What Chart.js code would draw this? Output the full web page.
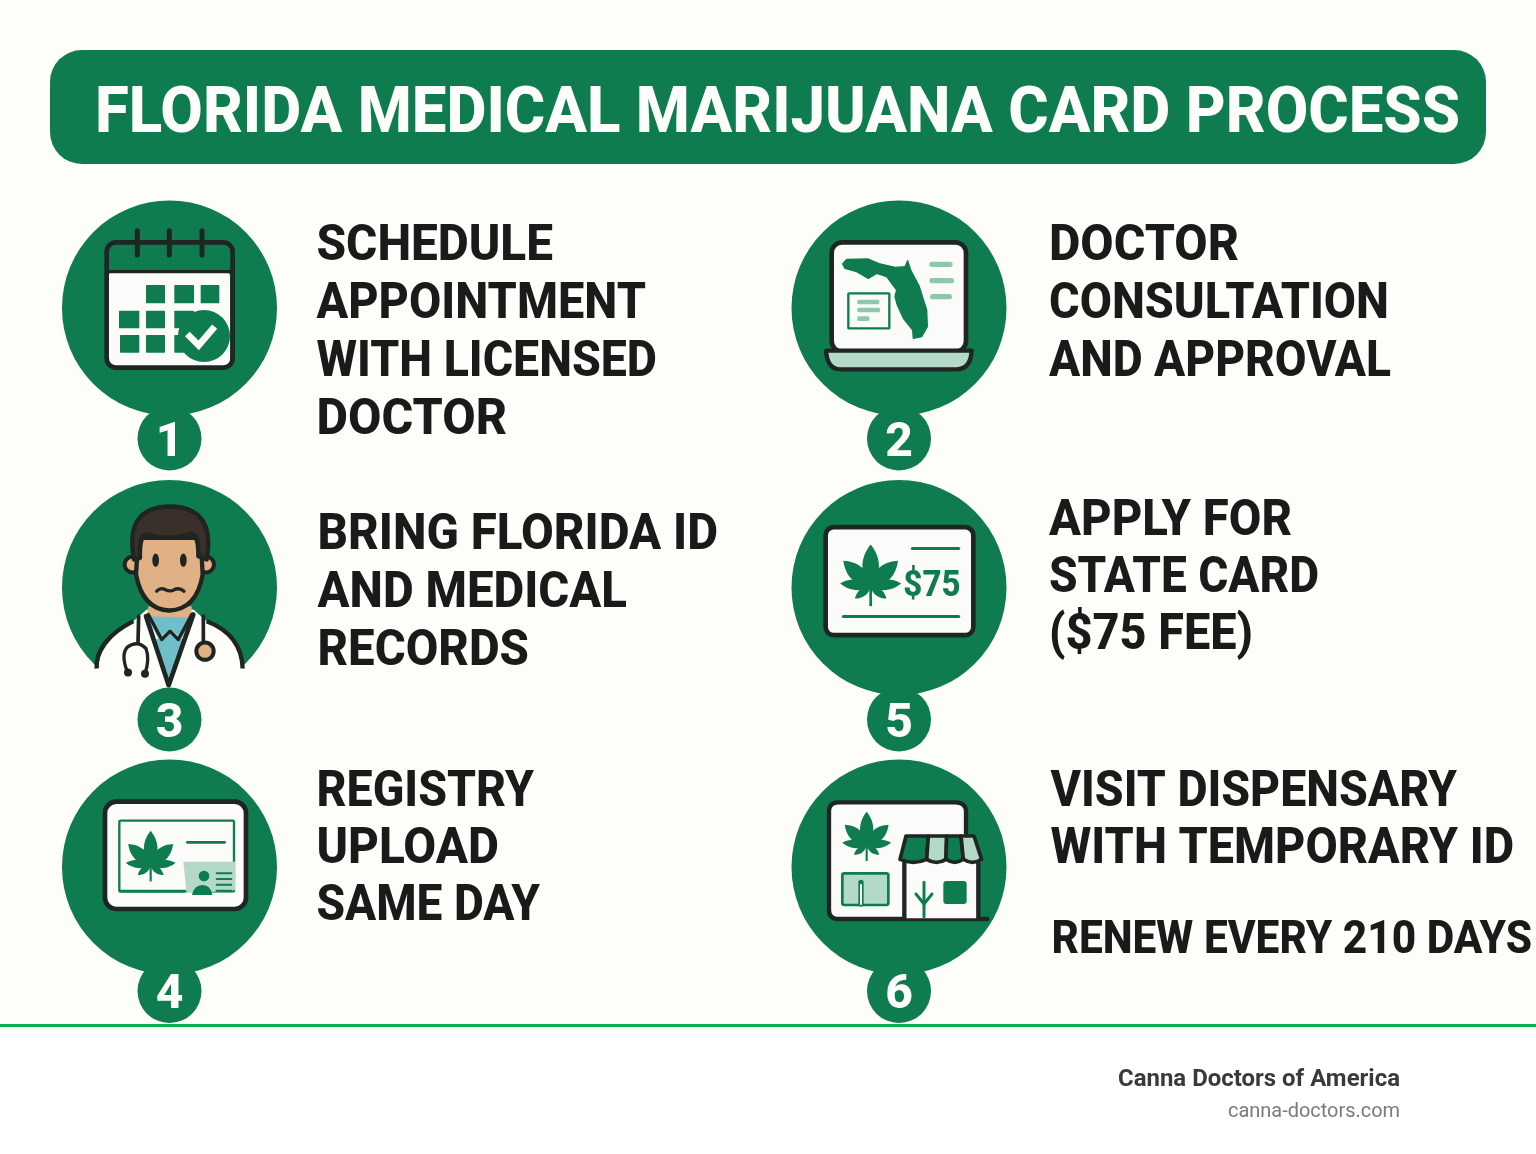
<!DOCTYPE html>
<html><head><meta charset="utf-8">
<style>html,body{margin:0;padding:0;background:#fff}canvas{display:block}</style>
<script src="https://cdn.jsdelivr.net/npm/chart.js@4"></script>
</head><body>
<div style="width:1536px;height:1154px"><canvas id="c" width="1536" height="1154"></canvas></div>
<script>
// ---- content ----
const titleText = "FLORIDA MEDICAL MARIJUANA CARD PROCESS";
const stepNumbers = ["1","2","3","4","5","6"];
const stepColumns = [0,1,0,0,1,1];
const stepRows    = [0,0,1,2,1,2];
const stepLines1 = ["SCHEDULE","APPOINTMENT","WITH LICENSED","DOCTOR"];
const stepLines2 = ["DOCTOR","CONSULTATION","AND APPROVAL"];
const stepLines3 = ["BRING FLORIDA ID","AND MEDICAL","RECORDS"];
const stepLines4 = ["REGISTRY","UPLOAD","SAME DAY"];
const stepLines5 = ["APPLY FOR","STATE CARD","($75 FEE)"];
const stepLines6 = ["VISIT DISPENSARY","WITH TEMPORARY ID"];
const renewText = "RENEW EVERY 210 DAYS";
const feeText = "$75";
const brandName = "Canna Doctors of America";
const brandSite = "canna-doctors.com";

// ---- style / layout ----
const G="#0F7C4F", D="#1E2522", P="#B5D9C9", M="#8FC7AE", W="#FBFCFA", BG="#FDFDF9", SK="#E0B184", TEAL="#6FBFCB";
const MAIN_R=107.5, BADGE_R=32;
const badgeOffsetPx=[130.5,132,124];
const HEAD="Roboto", HW="800";
const lay=[
 {t:stepLines1,x:316.5,w:[236.5,329.5,340.5,190.5],y:[260,318,376,434],s:50},
 {t:stepLines2,x:1049,w:[190,340,342],y:[260,318,376],s:50},
 {t:stepLines3,x:317.5,w:[400.5,309.5,211.5],y:[549,607,665],s:50},
 {t:stepLines4,x:316.5,w:[217.5,182.5,223.5],y:[806,863,920],s:50},
 {t:stepLines5,x:1049,w:[243,270,204],y:[535,592,649],s:50},
 {t:stepLines6,x:1050.5,w:[406.5,463.5],y:[806,863],s:50},
 {t:[renewText],x:1051.5,w:[480.5],y:[953],s:46}
];

function fit(ctx,text,x,y,w,font,color){
  ctx.save();ctx.font=font;ctx.fillStyle=color;ctx.textBaseline="alphabetic";ctx.textAlign="left";
  const m=ctx.measureText(text).width;ctx.translate(x,y);ctx.scale(w/m,1);ctx.fillText(text,0,0);ctx.restore();
}
function rr(ctx,x0,y0,x1,y1,r){ctx.beginPath();ctx.roundRect(x0,y0,x1-x0,y1-y0,r);}
function box(ctx,x0,y0,x1,y1,r,fill,stroke,lw){rr(ctx,x0,y0,x1,y1,r);if(fill){ctx.fillStyle=fill;ctx.fill();}if(stroke){ctx.strokeStyle=stroke;ctx.lineWidth=lw;ctx.stroke();}}
function seg(ctx,pts,color,lw){ctx.beginPath();pts.forEach((p,i)=>i?ctx.lineTo(p[0],p[1]):ctx.moveTo(p[0],p[1]));ctx.strokeStyle=color;ctx.lineWidth=lw;ctx.lineCap="round";ctx.lineJoin="round";ctx.stroke();}
function poly(ctx,pts,fill){ctx.beginPath();pts.forEach((p,i)=>i?ctx.lineTo(p[0],p[1]):ctx.moveTo(p[0],p[1]));ctx.closePath();ctx.fillStyle=fill;ctx.fill();}
function leaf(ctx,cx,cy,s){
  const parts=[[0,125,32],[-47,112,30],[47,112,30],[-85,92,20],[85,92,20],[-128,60,15],[128,60,15]];
  ctx.save();ctx.translate(cx,cy);ctx.scale(s,s);ctx.fillStyle=G;
  parts.forEach(([a,l,w])=>{ctx.save();ctx.rotate(a*Math.PI/180);ctx.beginPath();ctx.moveTo(0,0);
    ctx.bezierCurveTo(-w*1.25,-l*0.35,-w*0.8,-l*0.75,0,-l);ctx.bezierCurveTo(w*0.8,-l*0.75,w*1.25,-l*0.35,0,0);ctx.fill();ctx.restore();});
  ctx.fillRect(-4,0,8,60);ctx.restore();
}
const icons=[
 function calendar(c){
  box(c,175,245,540,528,14,W);
  seg(c,[[175,245],[540,245]],D,10);
  box(c,170,157,548,533,28,null,D,14);
  [262,358,456].forEach(x=>seg(c,[[x,122],[x,195]],D,15));
  [[288,285,345,340],[373,285,432,340],[452,285,508,340],[207,362,268,415],[288,362,345,415],[373,362,432,415],[210,435,268,488],[288,435,345,488],[373,435,430,488]]
   .forEach(r=>box(c,r[0],r[1],r[2],r[3],2,G));
  c.beginPath();c.arc(462,438,78,0,7);c.fillStyle=G;c.fill();
  c.lineCap="butt";c.lineJoin="miter";c.beginPath();c.moveTo(412,432);c.lineTo(446,466);c.lineTo(494,410);c.strokeStyle=W;c.lineWidth=20;c.stroke();
 },
 function laptop(c){
  box(c,155,157,558,485,32,W,D,14);
  c.beginPath();c.moveTo(138,482);c.lineTo(575,482);c.quadraticCurveTo(572,538,530,538);c.lineTo(180,538);c.quadraticCurveTo(142,538,138,482);c.closePath();
  c.fillStyle=P;c.fill();c.strokeStyle=D;c.lineWidth=13;c.lineJoin="round";c.stroke();
  c.beginPath();[[188,222],[200,208],[265,207],[300,222],[345,232],[375,230],[383,212],[392,240],[418,290],[440,360],[442,410],[425,440],[400,445],[398,420],[370,385],[352,345],[345,320],[350,300],[320,260],[290,250],[265,265],[230,245],[195,235]]
   .forEach((p,i)=>i?c.lineTo(p[0],p[1]):c.moveTo(p[0],p[1]));c.closePath();c.fillStyle=G;c.fill();c.strokeStyle=G;c.lineWidth=4;c.stroke();
  [[448,518,223],[448,522,272],[450,516,320]].forEach(b=>box(c,b[0],b[2]-8,b[1],b[2]+8,8,M));
  box(c,205,310,328,415,2,W,G,7);
  [[232,298,336],[232,300,360],[232,268,386]].forEach(b=>box(c,b[0],b[2]-7,b[1],b[2]+7,4,M));
 },
 function doctor(c){
  c.fillStyle=BG;c.fillRect(-20,585,720,100);
  c.beginPath();c.moveTo(145,590);c.quadraticCurveTo(140,510,250,440);c.lineTo(290,405);c.lineTo(430,405);c.lineTo(470,440);c.quadraticCurveTo(575,480,575,590);c.closePath();c.fillStyle=BG;c.fill();
  c.beginPath();c.moveTo(140,582);c.quadraticCurveTo(135,500,250,440);c.strokeStyle=D;c.lineWidth=13;c.lineCap="butt";c.stroke();
  c.beginPath();c.moveTo(470,440);c.quadraticCurveTo(575,480,578,582);c.stroke();
  [[248,270],[468,270]].forEach(p=>{c.beginPath();c.arc(p[0],p[1],24,0,7);c.fillStyle=SK;c.fill();c.strokeStyle=D;c.lineWidth=12;c.stroke();});
  poly(c,[[295,395],[425,395],[425,430],[360,465],[290,430]],SK);
  poly(c,[[290,425],[325,492],[360,465],[395,492],[425,430]],TEAL);
  poly(c,[[318,495],[360,475],[400,495],[357,615]],TEAL);
  seg(c,[[288,425],[356,632],[430,420]],D,14);
  seg(c,[[295,420],[335,495],[360,470],[385,495],[425,420]],D,10);
  c.beginPath();c.moveTo(265,190);c.lineTo(452,190);c.lineTo(458,300);c.quadraticCurveTo(440,405,358,408);c.quadraticCurveTo(278,405,258,300);c.closePath();
  c.fillStyle=SK;c.fill();c.strokeStyle=D;c.lineWidth=13;c.lineJoin="round";c.stroke();
  c.beginPath();c.moveTo(252,255);c.quadraticCurveTo(222,98,360,96);c.quadraticCurveTo(498,98,470,255);c.lineTo(445,245);c.quadraticCurveTo(446,175,420,178);c.quadraticCurveTo(360,200,290,180);c.quadraticCurveTo(268,180,270,250);c.closePath();
  c.fillStyle="#3B2F29";c.fill();c.strokeStyle=D;c.lineWidth=13;c.stroke();
  [[317,257],[400,257]].forEach(p=>{c.beginPath();c.ellipse(p[0],p[1],10,20,0,0,7);c.fillStyle=D;c.fill();});
  c.beginPath();c.moveTo(320,350);c.quadraticCurveTo(332,338,345,345);c.quadraticCurveTo(360,353,372,346);c.quadraticCurveTo(388,338,402,350);c.strokeStyle=D;c.lineWidth=10;c.lineCap="round";c.stroke();
  seg(c,[[266,425],[264,505]],D,11);seg(c,[[460,425],[460,505]],D,11);
  c.beginPath();c.moveTo(232,592);c.quadraticCurveTo(212,540,232,518);c.quadraticCurveTo(262,495,288,522);c.quadraticCurveTo(300,555,285,597);c.strokeStyle=D;c.lineWidth=10;c.stroke();
  [[234,594],[285,598]].forEach(p=>{c.beginPath();c.arc(p[0],p[1],12,0,7);c.fillStyle=D;c.fill();});
  c.beginPath();c.arc(465,530,26,0,7);c.fillStyle=SK;c.fill();c.strokeStyle=D;c.lineWidth=12;c.stroke();
 },
 function idcard(c){
  box(c,165,155,588,477,34,W,D,14);
  box(c,208,212,552,425,4,null,G,7);
  leaf(c,302,345,0.82);
  seg(c,[[412,277],[524,277]],G,8);
  c.beginPath();c.moveTo(400,335);c.lineTo(555,335);c.lineTo(555,420);c.lineTo(410,432);c.closePath();c.fillStyle=P;c.fill();
  box(c,400,428,556,436,0,W);
  seg(c,[[210,423],[405,423]],G,7);
  c.beginPath();c.arc(462,378,16,0,7);c.fillStyle=G;c.fill();
  c.beginPath();c.moveTo(426,435);c.quadraticCurveTo(432,405,458,405);c.quadraticCurveTo(482,405,487,435);c.closePath();c.fill();
  [370,387,404,422].forEach(y=>seg(c,[[500,y],[544,y]],G,6));
 },
 function feecard(c){
  box(c,137,158,580,482,24,W,D,14);
  leaf(c,272,335,1);
  seg(c,[[397,222],[536,222]],G,9);
  seg(c,[[190,426],[536,426]],G,9);
  fit(c,feeText,370,364,172,HW+" 112px "+HEAD,G);
 },
 function shop(c){
  c.beginPath();c.moveTo(558,250);c.lineTo(558,185);c.quadraticCurveTo(558,157,525,157);c.lineTo(175,157);c.quadraticCurveTo(147,157,147,185);c.lineTo(147,480);c.quadraticCurveTo(147,507,175,507);c.lineTo(590,507);c.lineTo(558,250);c.closePath();c.fillStyle=W;c.fill();
  c.beginPath();c.moveTo(558,250);c.lineTo(558,185);c.quadraticCurveTo(558,157,525,157);c.lineTo(175,157);c.quadraticCurveTo(147,157,147,185);c.lineTo(147,480);c.quadraticCurveTo(147,507,175,507);c.lineTo(622,507);c.strokeStyle=D;c.lineWidth=13;c.lineCap="round";c.lineJoin="round";c.stroke();
  leaf(c,260,285,0.8);
  box(c,187,370,325,465,6,P,G,8);
  seg(c,[[243,397],[243,462]],G,16);seg(c,[[243,405],[243,462]],W,6);
  box(c,375,335,595,505,0,W);
  seg(c,[[373,340],[373,505]],D,13);seg(c,[[595,340],[595,505]],D,13);
  const xsT=[378,445,500,543,582], xsB=[360,440,498,550,605], fills=[G,P,G,P];
  fills.forEach((f,i)=>{c.beginPath();c.moveTo(xsT[i],258);c.lineTo(xsT[i+1],258);c.lineTo(xsB[i+1],328);c.quadraticCurveTo((xsB[i]+xsB[i+1])/2,346,xsB[i],328);c.closePath();c.fillStyle=f;c.fill();c.strokeStyle=D;c.lineWidth=11;c.stroke();});
  seg(c,[[432,397],[432,500]],G,9);
  seg(c,[[408,432],[432,462],[456,432]],G,9);
  box(c,490,393,560,462,9,G);
 }
];

const panel={
 id:"panel",
 beforeDatasetsDraw(chart){
  const c=chart.ctx;
  c.save();
  c.fillStyle=BG;c.fillRect(0,0,1536,1024);
  c.fillStyle="#FFFFFF";c.fillRect(0,1027,1536,127);
  c.fillStyle="#0BAF52";c.fillRect(0,1024,1536,3);
  box(c,50,50,1486,164,32,G);
  c.restore();
 },
 afterDatasetDraw(chart,args){
  if(args.index!==0)return;
  const c=chart.ctx, xs=chart.scales.x, ys=chart.scales.y;
  stepNumbers.forEach((n,i)=>{
   c.save();
   c.translate(xs.getPixelForValue(stepColumns[i]),ys.getPixelForValue(stepRows[i]));
   c.scale(1/3,1/3);
   const ox=stepColumns[i]?357:358.5, oy=[354,339,351][stepRows[i]];
   c.translate(-ox,-oy);
   icons[i](c);
   c.restore();
  });
 },
 afterDatasetsDraw(chart){
  const c=chart.ctx, xs=chart.scales.x, ys=chart.scales.y;
  fit(c,titleText,95,132,1365,HW+" 64px "+HEAD,"#FDFEFB");
  lay.forEach(b=>b.t.forEach((s,i)=>fit(c,s,b.x,b.y[i],b.w[i],HW+" "+b.s+"px "+HEAD,"#1A1A1A")));
  stepNumbers.forEach((n,i)=>{
   const cx=xs.getPixelForValue(stepColumns[i]), cy=ys.getPixelForValue(stepRows[i])+badgeOffsetPx[stepRows[i]];
   c.save();c.font=HW+" 48px "+HEAD;c.fillStyle="#FDFEFB";c.textAlign="center";c.textBaseline="alphabetic";c.fillText(n,cx,cy+17);c.restore();
  });
  fit(c,brandName,1118,1086,282,"700 23px Roboto","#3A3A3A");
  fit(c,brandSite,1228,1117,172,"400 20px Roboto","#7A7A7A");
 }
};

new Chart(document.getElementById("c"),{
 type:"bubble",
 plugins:[panel],
 data:{datasets:[
  {label:"Steps",order:2,clip:false,backgroundColor:G,borderWidth:0,
   data:stepNumbers.map((n,i)=>({x:stepColumns[i],y:stepRows[i],r:MAIN_R}))},
  {label:"Step numbers",order:1,clip:false,backgroundColor:G,borderWidth:0,
   data:stepNumbers.map((n,i)=>({x:stepColumns[i],y:stepRows[i]+badgeOffsetPx[stepRows[i]]/279.5,r:BADGE_R}))}
 ]},
 options:{
  responsive:false,animation:false,devicePixelRatio:1,
  layout:{padding:0,autoPadding:false},
  plugins:{legend:{display:false},tooltip:{enabled:false},title:{display:false}},
  scales:{
   x:{type:"linear",display:false,min:-169.5/729.5,max:(1536-169.5)/729.5},
   y:{type:"linear",display:false,reverse:true,min:-308/279.5,max:(1154-308)/279.5}
  }
 }
});
</script>
</body></html>
